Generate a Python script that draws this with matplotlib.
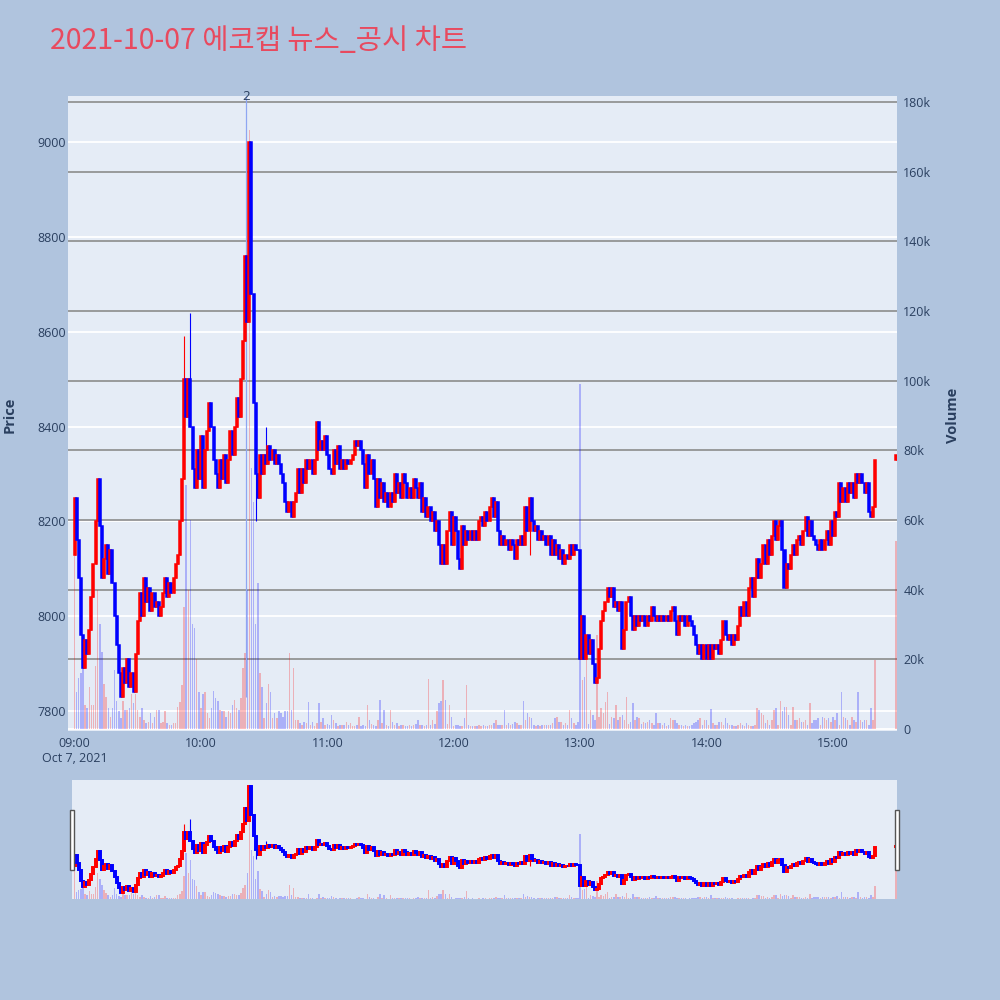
import numpy as np
import pandas as pd
import matplotlib
matplotlib.use("Agg")
import matplotlib.pyplot as plt
import matplotlib.dates as mdates
import matplotlib.transforms as mtransforms
from matplotlib.patches import Rectangle
from matplotlib.ticker import FuncFormatter

plt.rcParams['font.family'] = ['Open Sans', 'Noto Sans CJK KR', 'DejaVu Sans']

TITLE = "2021-10-07 에코캡 뉴스_공시 차트"
TRADE_DATE = "2021-10-07"

# one-minute candles from 09:00 to 15:20, closes
first_open = 8130
close_prices = [
    8250, 8160, 8080, 7960, 7890, 7950, 7920, 7970, 8040, 8110,
    8200, 8290, 8190, 8080, 8120, 8150, 8090, 8140, 8070, 8000,
    7940, 7880, 7830, 7890, 7860, 7910, 7850, 7880, 7840, 7920,
    7990, 8050, 8000, 8080, 8030, 8060, 8010, 8050, 8020, 8030,
    8000, 8020, 8050, 8080, 8040, 8070, 8050, 8080, 8110, 8130,
    8200, 8290, 8500, 8420, 8500, 8400, 8310, 8270, 8350, 8290,
    8380, 8270, 8350, 8390, 8450, 8400, 8330, 8300, 8270, 8330,
    8290, 8340, 8280, 8330, 8390, 8340, 8400, 8460, 8420, 8500,
    8580, 8760, 8620, 9000, 8680, 8450, 8300, 8250, 8340, 8300,
    8340, 8320, 8360, 8330, 8350, 8320, 8340, 8320, 8300, 8280,
    8240, 8220, 8240, 8210, 8240, 8260, 8310, 8260, 8310, 8280,
    8330, 8310, 8330, 8300, 8330, 8410, 8350, 8370, 8350, 8380,
    8340, 8310, 8300, 8350, 8320, 8360, 8310, 8330, 8310, 8330,
    8320, 8330, 8340, 8370, 8360, 8370, 8350, 8320, 8270, 8340,
    8300, 8330, 8290, 8230, 8290, 8250, 8280, 8240, 8260, 8230,
    8260, 8240, 8300, 8260, 8280, 8250, 8300, 8280, 8250, 8270,
    8250, 8290, 8270, 8250, 8280, 8220, 8250, 8210, 8230, 8200,
    8220, 8180, 8200, 8150, 8110, 8150, 8110, 8180, 8220, 8150,
    8210, 8180, 8120, 8100, 8190, 8150, 8180, 8160, 8180, 8160,
    8180, 8160, 8200, 8210, 8190, 8220, 8200, 8230, 8250, 8210,
    8240, 8180, 8150, 8170, 8150, 8160, 8140, 8160, 8150, 8120,
    8160, 8150, 8170, 8150, 8230, 8180, 8250, 8200, 8180, 8190,
    8160, 8180, 8160, 8170, 8150, 8170, 8130, 8160, 8130, 8150,
    8120, 8140, 8110, 8130, 8120, 8150, 8130, 8150, 8140, 8140,
    7910, 8000, 7910, 7960, 7920, 7950, 7900, 7860, 7870, 7930,
    7990, 8010, 8030, 8060, 8040, 8060, 8020, 8030, 8010, 8030,
    7930, 7970, 8030, 8040, 8000, 7970, 8000, 7980, 8000, 7990,
    8000, 7980, 8000, 7990, 8020, 8000, 7990, 8000, 7990, 8000,
    7990, 8000, 7990, 8010, 8020, 7990, 7960, 8000, 7990, 8000,
    7980, 8000, 7990, 7980, 7960, 7940, 7920, 7940, 7910, 7940,
    7910, 7940, 7910, 7940, 7930, 7940, 7920, 7950, 7990, 7960,
    7950, 7960, 7940, 7960, 7950, 7980, 8020, 8000, 8030, 8000,
    8060, 8080, 8040, 8080, 8120, 8080, 8110, 8150, 8110, 8160,
    8130, 8170, 8200, 8160, 8190, 8200, 8140, 8060, 8110, 8100,
    8130, 8150, 8130, 8160, 8170, 8150, 8180, 8210, 8170, 8200,
    8170, 8160, 8150, 8140, 8160, 8140, 8160, 8180, 8150, 8200,
    8170, 8220, 8210, 8280, 8240, 8270, 8240, 8280, 8260, 8280,
    8250, 8300, 8280, 8300, 8280, 8260, 8280, 8220, 8210, 8230,
    8330,
]
auction_close = 8340  # 15:30 closing auction

# volume per minute, in thousands of shares
volume_k = [
    60, 10.7, 14.5, 16, 20, 7, 6, 12, 7, 7,
    18, 40, 30, 22, 13, 9.3, 6, 3.5, 6, 17,
    8, 5, 3, 8, 5.5, 5.5, 6, 10, 7.4, 10,
    5.5, 3.5, 6, 2.6, 1.6, 2, 4.5, 1.6, 3.5, 5.5,
    5.5, 1.6, 2, 5, 1.6, 1.1, 1.1, 1.6, 1.6, 6.4,
    7.8, 12.6, 35, 70, 40, 60, 30, 29, 20, 10.7,
    6, 10, 10.7, 4.5, 3, 6, 11, 9, 8, 5.5,
    5, 5, 3.5, 5, 4.5, 7, 8.3, 6, 5.5, 8.8,
    17.4, 21.7, 40, 172, 75, 65, 30, 42, 16, 12,
    3, 7.4, 13, 10.7, 3, 4.5, 3, 5, 4.5, 3.5,
    5, 5, 21.7, 5.5, 17.4, 2.6, 2.6, 1.6, 1.1, 2,
    1.6, 7.8, 1.2, 2, 0.7, 1.6, 7.4, 2, 3, 1.1,
    1.5, 1.1, 4, 2.6, 1.6, 0.7, 1.2, 1.1, 1.1, 2,
    1.2, 1.6, 0.7, 0.7, 1.0, 3.3, 0.9, 1.1, 0.7, 6.9,
    2.6, 1.5, 1.1, 0.7, 2.6, 8.3, 1.6, 5.5, 1.2, 0.7,
    5.5, 2, 1.2, 1.6, 0.9, 1.0, 1.1, 0.9, 0.9, 1.1,
    0.7, 1.1, 1.5, 2.6, 1.1, 1.1, 0.9, 1.0, 14.3, 1.1,
    2.6, 1.5, 5, 7.4, 7.9, 14, 8.3, 1.5, 7, 3.5,
    0.7, 1.0, 1.1, 0.9, 0.9, 3, 12.6, 1.0, 0.7, 0.9,
    0.7, 0.7, 1.0, 0.7, 1.1, 0.9, 0.7, 1.0, 1.2, 1.6,
    2.6, 1.0, 1.2, 1.0, 5.5, 1.2, 1.6, 1.1, 1.5, 2,
    1.6, 1.0, 1.2, 8.1, 2.6, 4.5, 3.5, 3, 1.0, 0.7,
    1.0, 0.9, 1.2, 1.0, 1.1, 1.0, 1.2, 1.6, 3, 3.5,
    2, 2, 1.2, 1.6, 1.0, 5.5, 3, 1.6, 1.2, 2,
    99, 14, 15, 24, 1.5, 5.5, 4, 2.6, 27, 3.5,
    6, 4.5, 7.8, 10.7, 1.5, 3.5, 3, 7, 2.6, 3.5,
    4, 2.6, 9.3, 1.5, 2, 7.4, 2.6, 3.5, 3, 1.5,
    2, 1.6, 2, 2.6, 1.6, 1.2, 4.5, 1.6, 1.6, 1.2,
    1.6, 0.8, 1.0, 3, 2.6, 2.6, 1.6, 1.1, 1.0, 0.8,
    1.0, 0.7, 0.8, 1.1, 1.6, 2, 2.6, 3, 1.2, 2.6,
    2.6, 1.0, 5.6, 1.6, 1.1, 1.1, 2, 2, 1.0, 3,
    1.6, 1.1, 1.1, 0.7, 0.7, 1.0, 1.6, 1.1, 0.8, 1.6,
    1.0, 0.7, 0.8, 1.2, 6, 5.5, 4.5, 4, 1.6, 2.6,
    1.2, 2.6, 5.5, 6, 1.0, 8.1, 5, 6.2, 6.2, 4,
    1.2, 6.2, 2.6, 2.6, 3, 2, 2, 2.6, 1.2, 7.4,
    1.6, 2.6, 2.6, 3, 1.2, 3.5, 3, 2.6, 3, 2,
    3.5, 2.6, 4.5, 1.2, 10.7, 3.5, 3, 2.6, 1.2, 3.5,
    2.6, 2, 10.7, 2.6, 2, 2.6, 2.6, 1.2, 6, 2.6,
    19.8,
]
auction_volume_k = 54

# wicks that stick out beyond the bodies
wick_high = {"09:52": 8590, "09:55": 8640, "10:31": 8400, "12:36": 8250}
wick_low = {"10:26": 8200, "12:36": 8130}

news_time = "10:21:25"
news_count = 2

price_ticks = [7800, 8000, 8200, 8400, 8600, 8800, 9000]
volume_ticks_k = [0, 20, 40, 60, 80, 100, 120, 140, 160, 180]
time_ticks = ["09:00", "10:00", "11:00", "12:00", "13:00", "14:00", "15:00"]

TEXT = "#2a3f5f"
PLOT_BG = "#E5ECF6"
FIG_BG = "#B0C4DE"


def ts(hhmm):
    return pd.Timestamp(f"{TRADE_DATE} {hhmm}")


times = pd.date_range(ts("09:00"), periods=len(close_prices), freq="min")
times = times.append(pd.DatetimeIndex([ts("15:30")]))
x = mdates.date2num(times.to_pydatetime())
minute = 1.0 / 1440

closes = np.array(close_prices + [auction_close], dtype=float)
opens = np.r_[first_open, closes[:-1]]
highs = np.maximum(opens, closes)
lows = np.minimum(opens, closes)
for t, v in wick_high.items():
    highs[times.get_loc(ts(t))] = v
for t, v in wick_low.items():
    lows[times.get_loc(ts(t))] = v
volumes = np.array(volume_k + [auction_volume_k], dtype=float)

up = closes > opens
candle_col = np.where(up, "#FF0000", "#0000FF")
vol_col = [(1, 0, 0, 0.25) if u else (0, 0, 1, 0.25) for u in up]

x0 = mdates.date2num(ts("09:00").to_pydatetime())


def draw_series(ax_p, ax_v, body_w, body_lw, wick_lw):
    ax_v.bar(x, volumes, width=0.7 * minute, color=vol_col, linewidth=0, zorder=2)
    ax_p.vlines(x, lows, highs, colors=candle_col, linewidth=wick_lw, zorder=3)
    ax_p.bar(x, np.abs(closes - opens), bottom=np.minimum(opens, closes),
             width=body_w * minute, color=candle_col, edgecolor=candle_col,
             linewidth=body_lw, zorder=4)


fig = plt.figure(figsize=(10, 10), dpi=100, facecolor=FIG_BG)

# ---- main chart: volume axis underneath, price axis on top
ax_v = fig.add_axes([0.068, 0.269, 0.829, 0.635], facecolor=PLOT_BG)
ax_p = ax_v.twinx()
ax_v.yaxis.tick_right()
ax_v.yaxis.set_label_position("right")
ax_p.yaxis.tick_left()
ax_p.yaxis.set_label_position("left")

ax_v.set_xlim(x0 - 3.1 * minute, x0 + 390.4 * minute)
ax_p.set_ylim(7758, 9097)
ax_v.set_ylim(-0.6, 181.7)

# price grid (white) and volume grid (gray), both below the bars
price_tf = mtransforms.blended_transform_factory(ax_v.transAxes, ax_p.transData)
ax_v.hlines(price_ticks, 0, 1, transform=price_tf, colors="white", linewidth=1.3, zorder=0.5)
ax_v.hlines(volume_ticks_k[1:], x0 - 10 * minute, x0 + 400 * minute,
            colors="#8c8c8c", linewidth=1.2, zorder=1)
ax_v.axhline(0, color="white", linewidth=1.3, zorder=1)

draw_series(ax_p, ax_v, body_w=0.95, body_lw=1.1, wick_lw=0.8)

news_x = mdates.date2num(pd.Timestamp(f"{TRADE_DATE} {news_time}").to_pydatetime())
ax_p.vlines(news_x, lows.min(), 9097, colors="#8ea6f2", linewidth=0.9, zorder=2.5)
ax_p.annotate(str(news_count), xy=(news_x, 1.0), xycoords=("data", "axes fraction"),
              ha="center", va="center", fontsize=9.5, color=TEXT, annotation_clip=False)

for a in (ax_v, ax_p):
    for s in a.spines.values():
        s.set_visible(False)

ax_p.set_yticks(price_ticks)
ax_p.tick_params(axis="y", length=0, pad=1.5, labelsize=9, labelcolor=TEXT)
ax_v.set_yticks(volume_ticks_k)
ax_v.yaxis.set_major_formatter(FuncFormatter(lambda v, _: "0" if v == 0 else f"{int(v)}k"))
ax_v.tick_params(axis="y", length=0, pad=4.5, labelsize=9, labelcolor=TEXT)

tick_pos = [mdates.date2num(ts(t).to_pydatetime()) for t in time_ticks]
tick_lbl = list(time_ticks)
tick_lbl[0] = tick_lbl[0] + "\nOct 7, 2021"
ax_v.set_xticks(tick_pos)
ax_v.set_xticklabels(tick_lbl)
ax_v.tick_params(axis="x", length=0, pad=4, labelsize=9, labelcolor=TEXT)
ax_v.grid(False)
ax_p.grid(False)

fig.text(0.010, 0.585, "Price", rotation=90, ha="center", va="center",
         fontsize=10.5, fontweight="bold", color=TEXT)
fig.text(0.953, 0.585, "Volume", rotation=90, ha="center", va="center",
         fontsize=10.5, fontweight="bold", color=TEXT)
fig.text(0.050, 0.959, TITLE, ha="left", va="center", fontsize=20.5, color="#E84A5F",
         family=["Noto Sans CJK KR", "DejaVu Sans"])

# ---- range slider
sl_v = fig.add_axes([0.072, 0.101, 0.825, 0.119], facecolor=PLOT_BG)
sl_p = sl_v.twinx()
sl_v.set_xlim(x0 - 1.2 * minute, x0 + 390.4 * minute)
sl_p.set_ylim(7764, 9066)
sl_v.set_ylim(0, 181.7)
draw_series(sl_p, sl_v, body_w=0.95, body_lw=1.4, wick_lw=0.8)
for a in (sl_v, sl_p):
    a.set_xticks([])
    a.set_yticks([])
    for s in a.spines.values():
        s.set_visible(False)

for hx in (0.0695, 0.8945):
    fig.add_artist(Rectangle((hx, 0.130), 0.004, 0.060, transform=fig.transFigure,
                             facecolor="white", edgecolor="#555555", linewidth=1.0))

fig.savefig("out.png", dpi=100, facecolor=FIG_BG)
